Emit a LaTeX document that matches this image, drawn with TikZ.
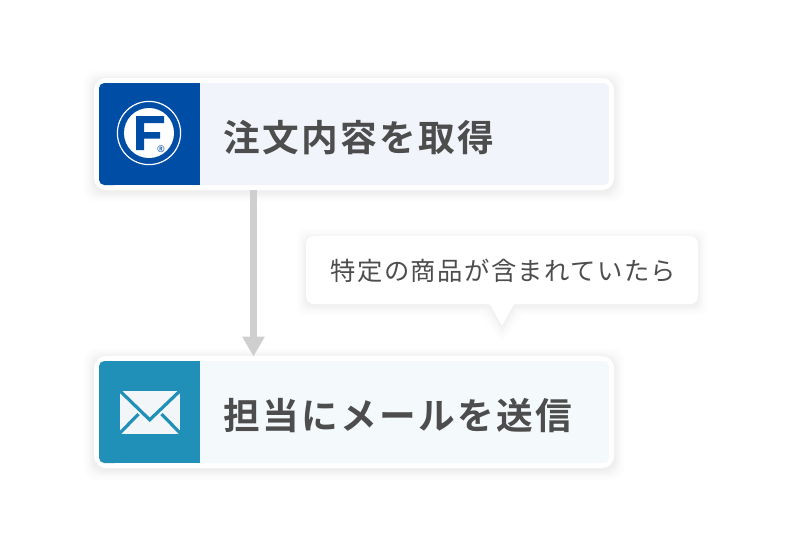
\documentclass[tikz,border=0pt]{standalone}
\usepackage{fontspec}
\usetikzlibrary{arrows.meta,calc}
\newfontfamily\jpbold[LetterSpace=6.5]{Noto Sans CJK JP Bold}
\newfontfamily\jpreg[LetterSpace=5.5]{Noto Sans CJK JP}
\newfontfamily\latinreg{Noto Sans}
\definecolor{txt}{HTML}{4D4D4D}
\definecolor{fblue}{HTML}{004DA6}
\definecolor{mailblue}{HTML}{2190B8}
\definecolor{cardone}{HTML}{F1F4FA}
\definecolor{cardtwo}{HTML}{F4F9FC}
\definecolor{arrowgray}{HTML}{CFCFCF}
\definecolor{envwhite}{HTML}{F3F6F9}
\tikzset{
  x=0.75pt,y=-0.75pt,
  card/.style={fill=white,draw=none,rounded corners=9pt},
  title/.style={anchor=base west,inner sep=0pt,text=txt,font=\fontsize{27.5pt}{28pt}\jpbold},
  tip/.style={anchor=base west,inner sep=0pt,text=txt,font=\fontsize{19pt}{19pt}\jpreg},
  flow/.style={draw=arrowgray,line width=5.25pt,-{Triangle[length=15pt,width=16pt]}},
  envline/.style={draw=mailblue,line width=2.4pt},
}
\newcommand{\softshadow}[4]{%
  \foreach \s in {10,8,6,5,4,3,2,1}{
    \fill[black,opacity=0.007,rounded corners=9pt]
      ({#1-\s},{#2-\s+2}) rectangle ({#3+\s},{#4+\s+2});
  }
}
\begin{document}
\begin{tikzpicture}
\useasboundingbox (0,0) rectangle (792,544);
\fill[white] (0,0) rectangle (792,544);
% card 1
\softshadow{94}{78}{614}{190}
\fill[card] (94,78) rectangle (614,190);
\fill[cardone,rounded corners=4pt] (99,83) rectangle (609,185);
\fill[fblue,rounded corners=4pt] (99,83) rectangle (120,185);
\fill[fblue] (110,83) rectangle (200,185);
\draw[white,line width=0.9pt] (149,133) circle [radius=31.6*0.75pt];
\fill[white] (149,133) circle [radius=25*0.75pt];
\fill[fblue] (136,116) -- (164,116) -- (164,123) -- (144,123) -- (144,132) -- (160,132) -- (160,138.5) -- (144,138.5) -- (144,150) -- (136,150) -- cycle;
\node[inner sep=0pt,text=fblue,font=\fontsize{7pt}{7pt}\latinreg] (reg) at (161,149) {®};
\node[title] (t1) at (223,151) {注文内容を取得};
\coordinate (c1) at (253.5,190);
% card 2
\softshadow{94}{356}{614}{468}
\fill[card] (94,356) rectangle (614,468);
\fill[cardtwo,rounded corners=4pt] (99,361) rectangle (609,463);
\fill[mailblue,rounded corners=4pt] (99,361) rectangle (120,463);
\fill[mailblue] (110,361) rectangle (200,463);
\begin{scope}
  \clip (120,391) rectangle (180,434);
  \fill[envwhite] (120,391) rectangle (180,434);
  \draw[envline] (117,388) -- (149.7,419.8) -- (183,388);
  \draw[envline] (117,436) -- (138.5,414);
  \draw[envline] (183,436) -- (161.5,414);
\end{scope}
\node[title] (t2) at (223,429) {担当にメールを送信};
\coordinate (c2) at (253.5,356.5);
% connector
\draw[flow] (c1) -- (c2);
% tooltip
\foreach \s in {9,7,5,4,3,2,1}{
  \fill[black,opacity=0.007,rounded corners=6pt]
    ({306-\s},{236-\s+2}) -- ({698+\s},{236-\s+2}) -- ({698+\s},{304+\s+2})
    [rounded corners=1pt] -- ({514+\s},{304+\s+2}) -- (502,{326+1.8*\s}) -- ({490-\s},{304+\s+2})
    [rounded corners=6pt] -- ({306-\s},{304+\s+2}) -- cycle;
}
\fill[white,rounded corners=6pt] (306,236) -- (698,236) -- (698,304)
  [rounded corners=1pt] -- (514,304) -- (502,326) -- (490,304)
  [rounded corners=6pt] -- (306,304) -- cycle;
\node[tip] (t3) at (330.5,280) {特定の商品が含まれていたら};
\end{tikzpicture}
\end{document}
